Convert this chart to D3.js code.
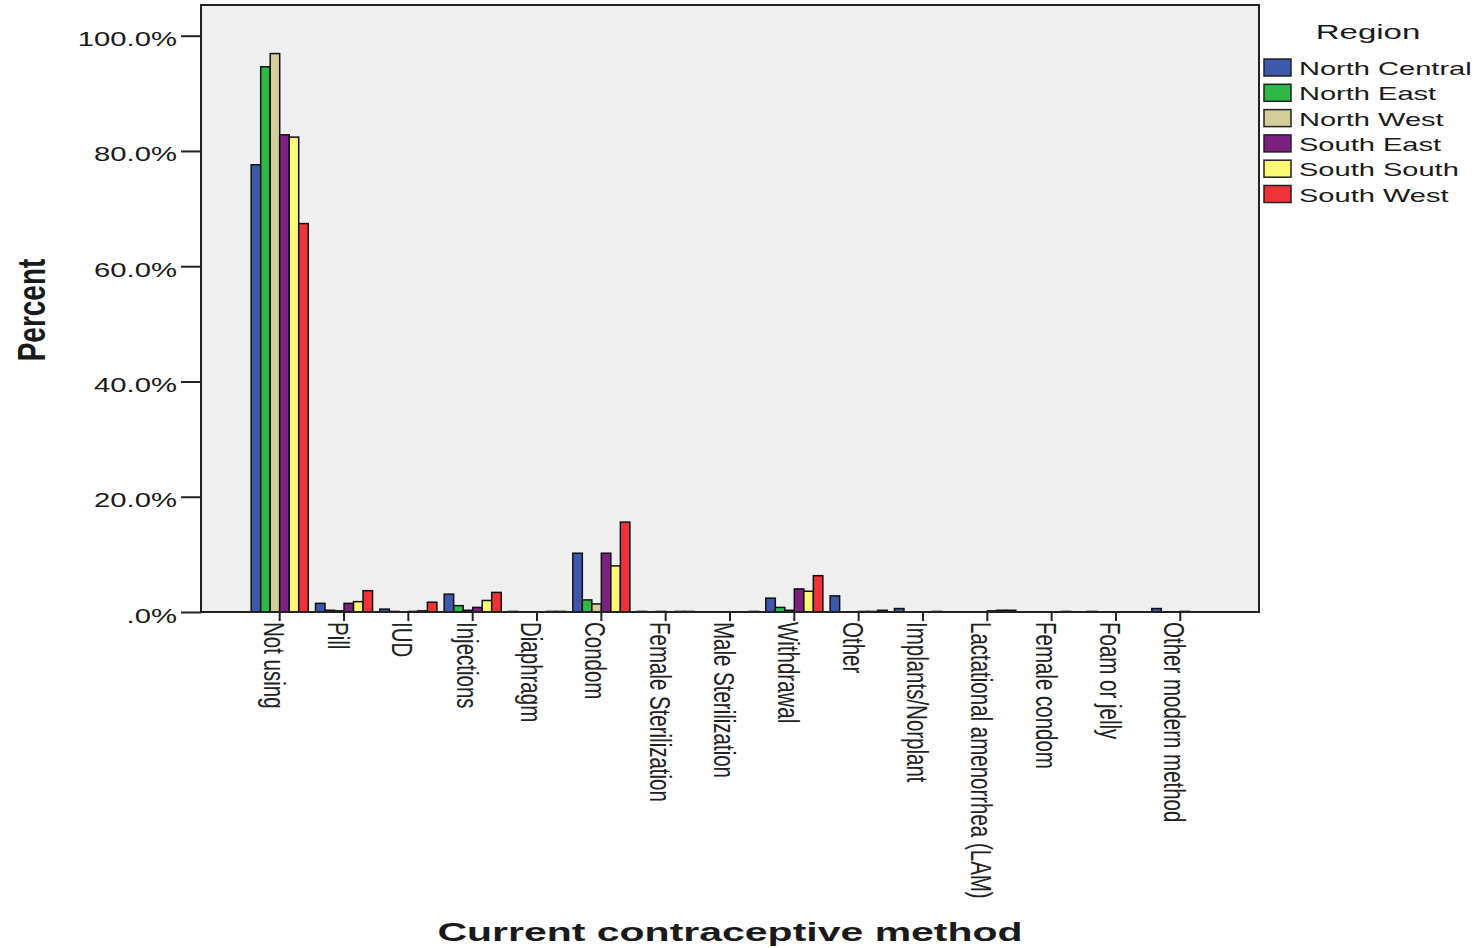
<!DOCTYPE html>
<html>
<head>
<meta charset="utf-8">
<script src="https://cdn.jsdelivr.net/npm/d3@7"></script>
<style>
  body { margin: 0; background: #fff; }
  text { font-family: "Liberation Sans", Arial, sans-serif; fill: #1a1a1a; }
</style>
</head>
<body>
<div id="container"></div>
<script>
const width = 1476;
const height = 948;

const methods = ["Not using", "Pill", "IUD", "Injections", "Diaphragm", "Condom",
  "Female Sterilization", "Male Sterilization", "Withdrawal", "Other",
  "Implants/Norplant", "Lactational amenorrhea (LAM)", "Female condom",
  "Foam or jelly", "Other modern method"];

const regions = ["North Central", "North East", "North West", "South East", "South South", "South West"];
const regionColors = ["#3e58ac", "#2eb848", "#d3ce97", "#7b2281", "#fbf873", "#ef3338"];

// percent of women in each region by method (same order as methods)
const northCentral = [77.6, 1.5, 0.5, 3.1, 0.1, 10.2, 0.1, 0.0, 2.4, 2.8, 0.6, 0.0, 0.0, 0.1, 0.6];
const northEast    = [94.6, 0.3, 0.1, 1.1, 0.0, 2.1, 0.0, 0.0, 0.8, 0.0, 0.0, 0.0, 0.0, 0.0, 0.0];
const northWest    = [96.9, 0.2, 0.0, 0.3, 0.0, 1.4, 0.1, 0.0, 0.3, 0.0, 0.0, 0.0, 0.0, 0.0, 0.0];
const southEast    = [82.8, 1.5, 0.1, 0.8, 0.0, 10.2, 0.0, 0.0, 4.0, 0.1, 0.0, 0.2, 0.0, 0.0, 0.1];
const southSouth   = [82.4, 1.8, 0.2, 2.0, 0.1, 8.0, 0.1, 0.0, 3.6, 0.1, 0.1, 0.3, 0.1, 0.0, 0.0];
const southWest    = [67.4, 3.7, 1.7, 3.4, 0.1, 15.6, 0.1, 0.1, 6.3, 0.3, 0.0, 0.3, 0.0, 0.0, 0.0];

const yTicks = [0, 20, 40, 60, 80, 100];

const series = [northCentral, northEast, northWest, southEast, southSouth, southWest];

const plot = { left: 201, right: 1259, top: 5, bottom: 612 };

const svg = d3.select("#container")
  .append("svg")
  .attr("width", width)
  .attr("height", height);

const x0 = d3.scaleBand()
  .domain(methods)
  .range([plot.left, plot.right])
  .paddingInner(0.113)
  .paddingOuter(0.78);

const x1 = d3.scaleBand()
  .domain(regions)
  .range([0, x0.bandwidth()]);

const y = d3.scaleLinear()
  .domain([0, 100])
  .range([plot.bottom, 35.7]);

const color = d3.scaleOrdinal().domain(regions).range(regionColors);

// plot frame
svg.append("rect")
  .attr("x", plot.left)
  .attr("y", plot.top)
  .attr("width", plot.right - plot.left)
  .attr("height", plot.bottom - plot.top)
  .attr("fill", "#efefef")
  .attr("stroke", "#222")
  .attr("stroke-width", 2);

// bars
const rows = [];
methods.forEach((m, i) => {
  regions.forEach((r, j) => rows.push({ method: m, region: r, value: series[j][i] }));
});

svg.append("g")
  .selectAll("rect")
  .data(rows.filter(d => d.value > 0))
  .enter()
  .append("rect")
  .attr("x", d => x0(d.method) + x1(d.region))
  .attr("y", d => y(d.value))
  .attr("width", x1.bandwidth())
  .attr("height", d => y(0) - y(d.value))
  .attr("fill", d => color(d.region))
  .attr("stroke", "#111")
  .attr("stroke-width", 1.5);

// redraw bottom edge over the bars
svg.append("line")
  .attr("x1", plot.left).attr("x2", plot.right)
  .attr("y1", plot.bottom).attr("y2", plot.bottom)
  .attr("stroke", "#222").attr("stroke-width", 2);

// y axis
const yAxis = svg.append("g")
  .attr("transform", `translate(${plot.left},0)`)
  .call(d3.axisLeft(y).tickValues(yTicks).tickSize(20).tickFormat(d => (d === 0 ? "" : d) + ".0%"));
yAxis.select(".domain").remove();
yAxis.selectAll(".tick line").attr("stroke", "#222").attr("stroke-width", 2);
yAxis.selectAll(".tick text")
  .attr("x", 0).attr("dy", null).attr("y", 0)
  .attr("text-anchor", "end")
  .style("font-size", "19.5px")
  .attr("transform", "translate(-24,10) scale(1.5,1)");

// x axis
const xAxis = svg.append("g")
  .attr("transform", `translate(0,${plot.bottom})`)
  .call(d3.axisBottom(x0).tickSize(9).tickSizeOuter(0));
xAxis.select(".domain").remove();
xAxis.selectAll(".tick line").attr("stroke", "#222").attr("stroke-width", 2);
xAxis.selectAll(".tick text")
  .attr("x", 0).attr("y", 0).attr("dy", null)
  .attr("text-anchor", "start")
  .style("font-size", "20.5px")
  .style("fill", "#222")
  .attr("transform", "translate(-16,10) scale(1.4,1) rotate(90)");

// axis titles
svg.append("text")
  .attr("text-anchor", "middle")
  .style("font-size", "25px")
  .style("font-weight", "bold")
  .attr("transform", "translate(730,941) scale(1.64,1)")
  .text("Current contraceptive method");

svg.append("text")
  .attr("text-anchor", "middle")
  .style("font-size", "28px")
  .style("font-weight", "bold")
  .attr("transform", "translate(45,310) scale(1.38,1) rotate(-90)")
  .text("Percent");

// legend
svg.append("text")
  .attr("text-anchor", "middle")
  .style("font-size", "20px")
  .attr("transform", "translate(1368,39) scale(1.65,1)")
  .text("Region");

const legend = svg.append("g")
  .selectAll("g")
  .data(regions)
  .enter()
  .append("g")
  .attr("transform", (d, i) => `translate(1264,${59 + i * 25.3})`);

legend.append("rect")
  .attr("width", 27)
  .attr("height", 17)
  .attr("fill", d => color(d))
  .attr("stroke", "#222")
  .attr("stroke-width", 1.5);

legend.append("text")
  .style("font-size", "18.5px")
  .attr("transform", "translate(35,16) scale(1.57,1)")
  .text(d => d);
</script>
</body>
</html>
